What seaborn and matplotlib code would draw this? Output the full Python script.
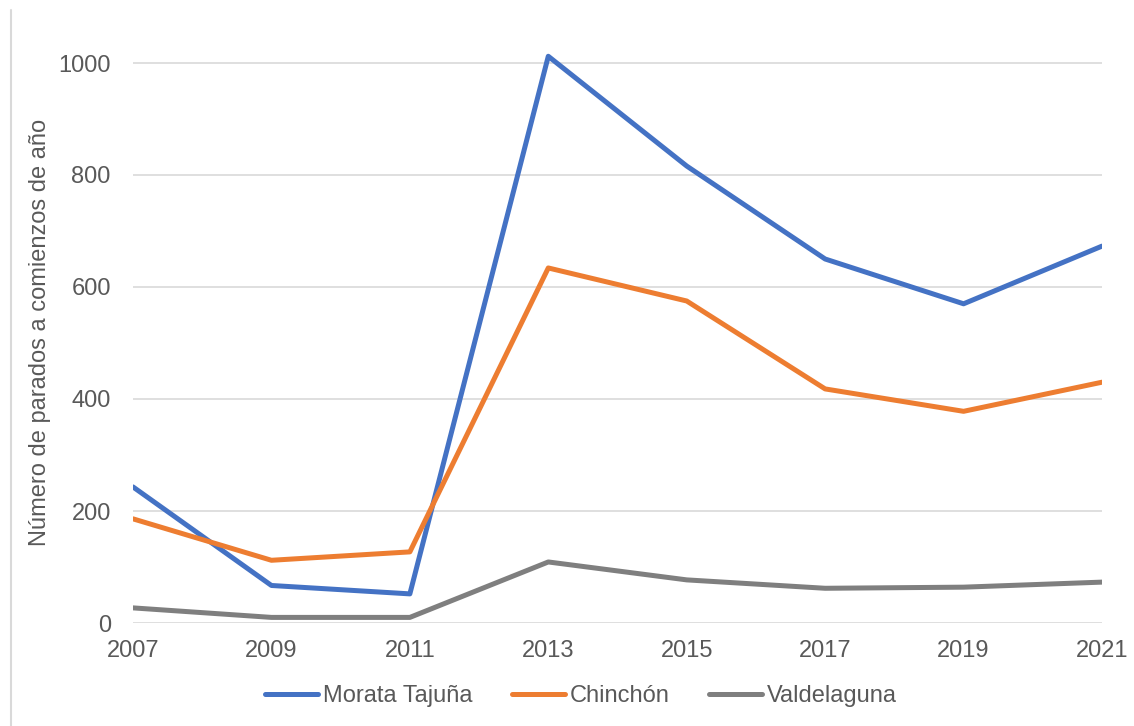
import matplotlib
matplotlib.use("Agg")
import matplotlib.pyplot as plt
import seaborn as sns
import pandas as pd
from matplotlib.lines import Line2D

years = [2007, 2009, 2011, 2013, 2015, 2017, 2019, 2021]
morata = [243, 67, 52, 1012, 816, 650, 570, 673]
chinchon = [186, 112, 127, 634, 575, 418, 378, 430]
valdelaguna = [27, 10, 10, 109, 77, 62, 64, 73]
series_names = ["Morata Tajuña", "Chinchón", "Valdelaguna"]
colors = ["#4472C4", "#ED7D31", "#7F7F7F"]

rows = []
for name, vals in zip(series_names, [morata, chinchon, valdelaguna]):
    for y, v in zip(years, vals):
        rows.append({"year": y, "value": v, "serie": name})
df = pd.DataFrame(rows)

sns.set_theme(style="white")
plt.rcParams['font.family'] = ['Liberation Sans', 'DejaVu Sans']

FS = 17

fig = plt.figure(figsize=(11.34, 7.26), dpi=100)
ax = fig.add_axes([133/1134, 1-623/726, (1102-133)/1134, 616/726])

sns.lineplot(data=df, x="year", y="value", hue="serie", palette=colors,
             hue_order=series_names, linewidth=3.6, ax=ax, legend=False,
             solid_capstyle="round", solid_joinstyle="round")

ax.set_xlim(2007, 2021)
ax.set_ylim(0, 1100)
ax.set_yticks([0, 200, 400, 600, 800, 1000])
ax.set_xticks(years)
ax.yaxis.grid(True, color="#D9D9D9", linewidth=1.2)
ax.set_axisbelow(True)
for s in ax.spines.values():
    s.set_visible(False)
ax.tick_params(axis="both", labelsize=FS, colors="#595959", length=0)
ax.tick_params(axis="y", pad=16)
ax.tick_params(axis="x", pad=12)
ax.set_xlabel("")
ax.set_ylabel("Número de parados a comienzos de año", fontsize=FS, color="#595959")
ax.yaxis.set_label_coords((51 - 133) / 969, (623 - 332.5) / 616)

handles = [Line2D([0], [0], color=c, lw=3.6, solid_capstyle="round") for c in colors]
fig.legend(handles, series_names, loc="center", bbox_to_anchor=(581/1134, 1-696/726), ncol=3,
           frameon=False, fontsize=FS, handlelength=2.25, handletextpad=0.2, columnspacing=1.66,
           labelcolor="#595959")

fig.add_artist(Line2D([11/1134, 11/1134], [0, 1-10/726], transform=fig.transFigure,
                      color="#D9D9D9", lw=1.5))

fig.savefig("out.png", dpi=100)
